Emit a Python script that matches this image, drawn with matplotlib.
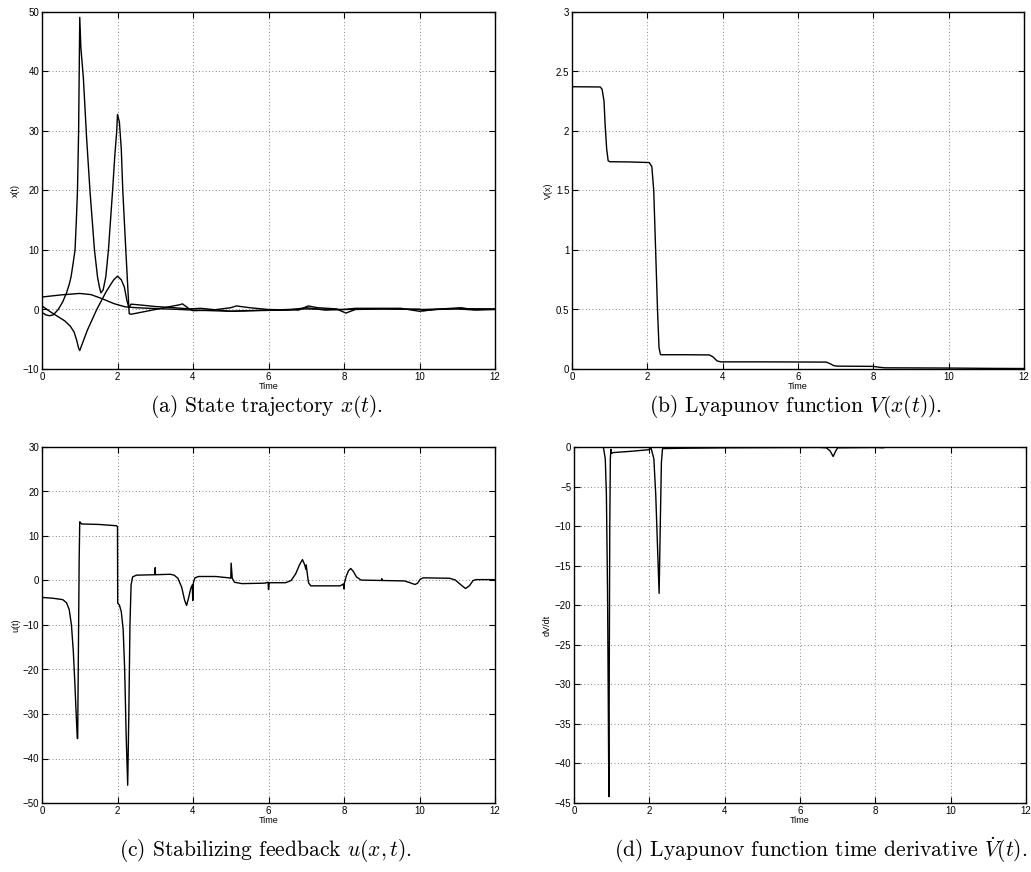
import matplotlib
matplotlib.use("Agg")
import matplotlib.pyplot as plt
from matplotlib.ticker import FuncFormatter

plt.rcParams['mathtext.fontset'] = 'cm'

# ---------------- data ----------------
# (a) state trajectory, three components
x1_t = [0, 0.1, 0.2, 0.3, 0.43, 0.55, 0.65, 0.72, 0.77, 0.83, 0.875, 0.91, 0.94, 0.97, 1.0, 1.03,
        1.095, 1.18, 1.27, 1.39, 1.47, 1.52, 1.56, 1.62, 1.69, 1.76, 1.87, 1.93, 1.98, 2.0, 2.05,
        2.1, 2.14, 2.22, 2.27, 2.31, 2.36, 2.6, 3.0, 3.4, 3.65, 3.72, 3.88, 4.0, 4.5, 5.0, 5.15,
        5.5, 6.0, 6.8, 7.05, 7.3, 7.8, 8.05, 8.3, 9.0, 10.0, 10.1, 10.6, 11.1, 11.4, 12]
x1_v = [-0.5, -0.9, -1.05, -0.9, 0.0, 1.3, 2.8, 4.2, 5.5, 8.0, 10.0, 15.0, 20.0, 30.0, 49.1, 44.0,
        39.0, 29.0, 20.0, 10.0, 5.5, 3.8, 2.8, 3.3, 5.5, 10.0, 20.0, 26.0, 30.0, 32.8, 31.5,
        27.0, 20.0, 10.0, 4.0, -0.7, -0.8, -0.5, 0.0, 0.5, 0.8, 0.95, 0.2, -0.2, -0.1, 0.3, 0.6,
        0.3, 0.0, -0.1, 0.6, 0.3, 0.1, -0.6, 0.0, 0.1, 0.05, -0.2, 0.1, 0.3, 0.0, 0.05]

x2_t = [0, 0.2, 0.4, 0.6, 0.75, 0.85, 0.92, 0.97, 1.0, 1.2, 1.45, 1.7, 1.9, 2.0, 2.1, 2.18, 2.25,
        2.3, 2.36, 2.7, 3.0, 3.5, 3.9, 4.2, 5.0, 5.5, 6.5, 7.0, 7.5, 8.0, 8.3, 9.5, 10.0, 10.4,
        11.0, 11.5, 12]
x2_v = [0.6, -0.3, -1.1, -1.9, -2.8, -3.8, -5.2, -6.5, -6.9, -3.5, 0.0, 3.0, 5.0, 5.6, 5.0, 3.8, 1.5,
        0.3, 0.9, 0.7, 0.5, 0.3, 0.1, 0.2, -0.3, -0.2, -0.1, 0.3, -0.1, 0.0, 0.2, 0.2, -0.3, 0.0,
        0.1, -0.1, 0.0]

x3_t = [0, 0.5, 1.0, 1.3, 1.6, 1.9, 2.2, 2.5, 3.0, 3.5, 4.0, 5.0, 6.0, 7.0, 8.0, 9.0, 10.0, 11.0, 12]
x3_v = [2.1, 2.45, 2.7, 2.5, 1.8, 1.0, 0.45, 0.3, 0.15, 0.05, -0.1, -0.3, -0.1, 0.1, 0.0, 0.1, 0.0,
        0.15, 0.1]

# (b) Lyapunov function
V_t = [0, 0.01, 0.75, 0.8, 0.85, 0.88, 0.92, 0.96, 1.0, 1.5, 2.05, 2.12, 2.17, 2.22, 2.27, 2.31,
       2.35, 3.0, 3.65, 3.75, 3.85, 3.95, 5.0, 6.75, 6.85, 6.95, 7.05, 8.0, 8.15, 8.3, 10.0, 11.2, 12]
V_v = [2.5, 2.372, 2.37, 2.35, 2.25, 2.05, 1.85, 1.75, 1.742, 1.74, 1.735, 1.7, 1.5, 1.0, 0.5, 0.18,
       0.12, 0.12, 0.118, 0.1, 0.068, 0.06, 0.06, 0.058, 0.045, 0.028, 0.024, 0.022, 0.015, 0.01,
       0.008, 0.005, 0.004]

# (c) stabilizing feedback
u_t = [0, 0.003, 0.3, 0.55, 0.65, 0.72, 0.78, 0.83, 0.87, 0.9, 0.935, 0.945, 0.96, 0.985, 1.0, 1.05,
       1.5, 1.98, 2.0, 2.005, 2.05, 2.1, 2.15, 2.19, 2.23, 2.27, 2.3, 2.33, 2.36, 2.4, 2.5, 2.99,
       3.0, 3.005, 3.4, 3.5, 3.6, 3.7, 3.78, 3.83, 3.88, 3.94, 3.98, 3.995, 4.01, 4.05, 4.15, 4.6,
       4.95, 5.0, 5.01, 5.04, 5.1, 5.3, 5.9, 5.99, 6.0, 6.02, 6.45, 6.6, 6.72, 6.82, 6.9, 6.96,
       6.99, 7.0, 7.02, 7.06, 7.12, 7.9, 7.98, 8.0, 8.01, 8.06, 8.12, 8.18, 8.25, 8.33, 8.45, 8.99,
       9.0, 9.01, 9.6, 9.75, 9.88, 9.95, 10.02, 10.1, 10.8, 10.95, 11.1, 11.22, 11.32, 11.42, 11.5, 12]
u_v = [26.3, -3.8, -4.0, -4.3, -5.0, -6.5, -10, -16, -23, -29, -35.5, -35.5, -20, 5, 13.2, 12.7,
       12.6, 12.3, 12.0, -5.1, -5.5, -7, -11, -20, -35, -46, -30, -10, -1, 0.8, 1.2, 1.3,
       2.9, 1.3, 1.4, 1.2, 0.5, -1.5, -4.5, -5.6, -4, -1.8, -1.0, -4.5, -0.5, 0.6, 0.9, 0.9,
       0.6, 0.5, 3.9, 0.5, -0.4, -0.7, -0.6, -0.4, -2.0, -0.5, -0.5, 0.0, 1.5, 3.5, 4.7, 3.5,
       2.5, 3.5, 2.0, -0.5, -1.2, -1.2, -0.8, -1.9, -0.6, 1.0, 2.2, 2.7, 2.0, 0.8, 0.1, 0.0,
       0.4, 0.0, -0.1, -0.5, -0.9, -0.6, 0.3, 0.6, 0.5, 0.1, -1.0, -1.8, -1.2, 0.0, 0.2, 0.2]

# (d) Lyapunov time derivative
dV_t = [0, 0.005, 0.78, 0.83, 0.86, 0.89, 0.91, 0.925, 0.935, 0.95, 0.965, 0.98, 1.0, 1.05, 1.5,
        1.97, 2.05, 2.12, 2.17, 2.22, 2.26, 2.29, 2.32, 2.35, 3.0, 4.0, 5.0, 6.5, 6.7, 6.8, 6.88,
        6.95, 7.0, 8.0, 8.2, 8.3, 12]
dV_v = [-29.8, 0, 0, -1.5, -6, -18, -32, -44.2, -30, -10, -1.5, -0.3, -0.8, -0.7, -0.55,
        -0.35, -0.2, -1.5, -6, -13, -18.5, -10, -2, -0.2, -0.15, -0.1, -0.08, -0.05, -0.1, -0.5, -1.2,
        -0.5, -0.1, -0.05, -0.1, 0.0, 0.0]

xticks = [0, 2, 4, 6, 8, 10, 12]
captions = [r'(a) State trajectory $x(t)$.',
            r'(b) Lyapunov function $V(x(t))$.',
            r'(c) Stabilizing feedback $u(x,t)$.',
            r'(d) Lyapunov function time derivative $\dot{V}(t)$.']

# ---------------- figure ----------------
W, H = 1031, 872
fig = plt.figure(figsize=(W / 100, H / 100), dpi=100)
fig.patch.set_facecolor('white')


def make_ax(l, r, t, b):
    return fig.add_axes([l / W, 1 - b / H, (r - l) / W, (b - t) / H])


fmt = FuncFormatter(lambda v, p: ('%g' % v).replace('-', '\u2212'))


def style(ax, ylim, yticks, ylabel):
    ax.set_xlim(0, 12)
    ax.set_ylim(*ylim)
    ax.set_xticks(xticks)
    ax.set_yticks(yticks)
    ax.xaxis.set_major_formatter(fmt)
    ax.yaxis.set_major_formatter(fmt)
    ax.tick_params(direction='in', length=4, width=0.8, top=True, right=True,
                   labelsize=7, pad=2)
    for lab in ax.get_xticklabels() + ax.get_yticklabels():
        lab.set_fontfamily('Liberation Sans')
    ax.grid(True, linestyle=(0, (1, 3)), color='0.35', linewidth=0.6)
    for sp in ax.spines.values():
        sp.set_linewidth(1.0)
        sp.set_color('black')
    ax.set_xlabel('Time', fontsize=6.5, family='Liberation Sans', labelpad=0.5)
    ax.set_ylabel(ylabel, fontsize=6.5, family='Liberation Sans', labelpad=2)


lw = 1.0
axa = make_ax(42, 495, 12, 369)
axa.plot(x3_t, x3_v, color='black', lw=lw)
axa.plot(x2_t, x2_v, color='black', lw=lw)
axa.plot(x1_t, x1_v, color='black', lw=lw)
style(axa, (-10, 50), [-10, 0, 10, 20, 30, 40, 50], 'x(t)')

axb = make_ax(572, 1024, 12, 369)
axb.plot(V_t, V_v, color='black', lw=lw)
style(axb, (0, 3), [0, 0.5, 1, 1.5, 2, 2.5, 3], 'V(x)')

axc = make_ax(42, 495, 447, 803)
axc.plot(u_t, u_v, color='black', lw=lw)
style(axc, (-50, 30), [-50, -40, -30, -20, -10, 0, 10, 20, 30], 'u(t)')

axd = make_ax(574, 1026, 447, 803)
axd.plot(dV_t, dV_v, color='black', lw=lw)
style(axd, (-45, 0), [-45, -40, -35, -30, -25, -20, -15, -10, -5, 0], 'dV/dt')

cap_kw = dict(fontsize=15.5, family='cmr10', va='center')
fig.text(266 / W, 1 - 406 / H, captions[0], ha='center', **cap_kw)
fig.text(795 / W, 1 - 406 / H, captions[1], ha='center', **cap_kw)
fig.text(266 / W, 1 - 850 / H, captions[2], ha='center', **cap_kw)
fig.text(614 / W, 1 - 850 / H, captions[3], ha='left', **cap_kw)

fig.savefig('out.png', dpi=100, facecolor='white')
